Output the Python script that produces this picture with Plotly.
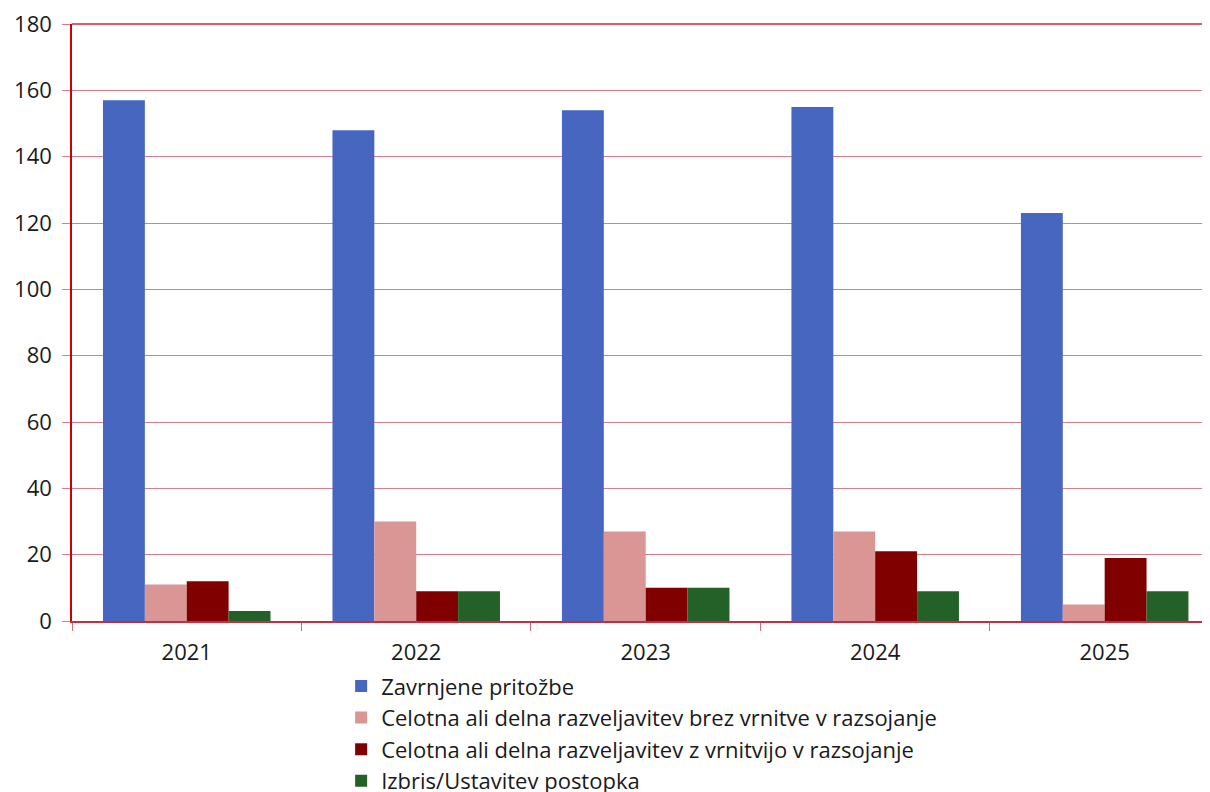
import plotly.graph_objects as go

years = ["2021", "2022", "2023", "2024", "2025"]
series_names = [
    "Zavrnjene pritožbe",
    "Celotna ali delna razveljavitev brez vrnitve v razsojanje",
    "Celotna ali delna razveljavitev z vrnitvijo v razsojanje",
    "Izbris/Ustavitev postopka",
]
zavrnjene = [157, 148, 154, 155, 123]
brez_vrnitve = [11, 30, 27, 27, 5]
z_vrnitvijo = [12, 9, 10, 21, 19]
izbris = [3, 9, 10, 9, 9]
colors = ["#4666C0", "#DA9694", "#800000", "#246128"]
y_ticks = [0, 20, 40, 60, 80, 100, 120, 140, 160, 180]

fig = go.Figure()
for name, vals, col in zip(series_names, [zavrnjene, brez_vrnitve, z_vrnitvijo, izbris], colors):
    fig.add_trace(go.Bar(x=years, y=vals, name=name, marker=dict(color=col, line=dict(width=0))))

font = "Open Sans, Noto Sans, sans-serif"
fig.update_layout(
    width=1202, height=784,
    margin=dict(l=64, r=0, t=16, b=171, autoexpand=False),
    paper_bgcolor="white", plot_bgcolor="white",
    barmode="group", bargap=0.27, bargroupgap=0,
    font=dict(family=font, size=22, color="#1a1a1a"),
    showlegend=True,
    legend=dict(x=0.2365, xanchor="left", y=-0.074, yanchor="top", orientation="v",
                font=dict(size=22), itemwidth=30, tracegroupgap=0, bgcolor="rgba(0,0,0,0)"),
    xaxis=dict(type="category", range=[-0.5, 4.459], tickson="boundaries", ticks="outside",
               ticklen=8, tickcolor="#C8707C", showgrid=False, showline=True,
               linecolor="#BE3048", linewidth=1.5,
               zeroline=False, ticklabelstandoff=11, automargin=False),
    yaxis=dict(range=[0, 180], tickvals=y_ticks, ticks="outside", ticklen=8, tickcolor="#D4808C",
               gridcolor="#D4808C", gridwidth=1, showline=True, linecolor="#CC0000", linewidth=1.5,
               zeroline=False, ticklabelstandoff=6, automargin=False, ticklabeloverflow="allow"),
    shapes=[dict(type="line", xref="paper", yref="paper", x0=0, x1=1, y0=1, y1=1,
                 line=dict(color="#C8283C", width=1.5), layer="above")],
)
fig.write_html("out.html")
